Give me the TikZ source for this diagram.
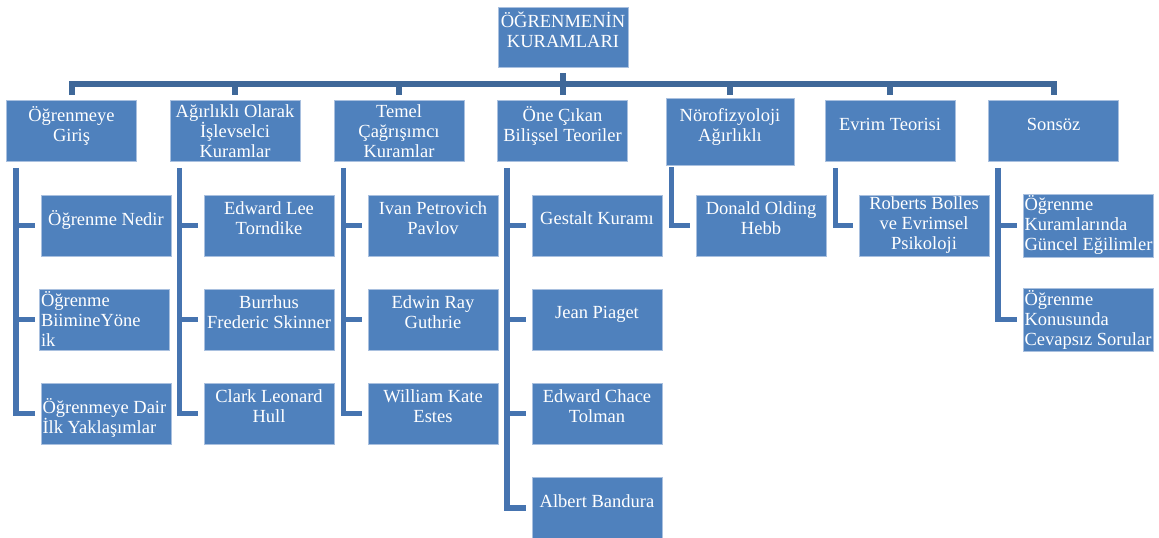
\documentclass[tikz,border=0pt]{standalone}
\usepackage{fontspec}
\setmainfont{Liberation Serif}
\definecolor{boxblue}{HTML}{4F81BD}
\definecolor{boxedge}{HTML}{A9C0DF}
\definecolor{busblue}{HTML}{3F6899}
\definecolor{lineblue}{HTML}{4674B0}
\begin{document}
\begin{tikzpicture}[x=1pt,y=-1pt,
  box/.style={draw=boxedge, line width=0.8pt, fill=boxblue, text=white,
    minimum width=130pt, minimum height=61pt, inner sep=2pt, align=center,
    font=\fontsize{18.5}{20}\selectfont},
  lift/.style={text depth=14pt},
  lbox/.style={box, align=flush left, text width=127pt, inner xsep=1.5pt},
  busline/.style={draw=busblue, line width=6pt},
  conn/.style={draw=lineblue, line width=5.5pt}]
\useasboundingbox (0,0) rectangle (1159,538);

% root
\node[box, lift, minimum height=60pt] (top) at (563,37) {ÖĞRENMENİN\\KURAMLARI};

% level 1
\node[box, lift] (n1) at (71.5,131) {Öğrenmeye\\Giriş};
\node[box] (n2) at (235,131) {Ağırlıklı Olarak\\İşlevselci\\Kuramlar};
\node[box] (n3) at (399,131) {Temel\\Çağrışımcı\\Kuramlar};
\node[box, lift] (n4) at (562.5,131) {Öne Çıkan\\Bilişsel Teoriler};
\node[box, lift, minimum width=128pt, minimum height=67pt] (n5) at (730,131.5) {Nörofizyoloji\\Ağırlıklı};
\node[box, lift] (n6) at (890,131) {Evrim Teorisi};
\node[box, lift] (n7) at (1053.5,131) {Sonsöz};

% level 2
\node[box, lift] (c11) at (106,225.5) {Öğrenme Nedir};
\node[lbox, xshift=-1.5pt] (c12) at (106,319.5) {Öğrenme\\BiimineYöne\\ik};
\node[lbox, lift] (c13) at (106,413.5) {\mbox{Öğrenmeye Dair}\\\mbox{İlk Yaklaşımlar}};

\node[box, lift] (c21) at (269,225.5) {Edward Lee\\Torndike};
\node[box, lift] (c22) at (269,319.5) {Burrhus\\Frederic Skinner};
\node[box, lift] (c23) at (269,413.5) {Clark Leonard\\Hull};

\node[box, lift] (c31) at (433,225.5) {Ivan Petrovich\\Pavlov};
\node[box, lift] (c32) at (433,319.5) {Edwin Ray\\Guthrie};
\node[box, lift] (c33) at (433,413.5) {William Kate\\Estes};

\node[box, lift] (c41) at (597,225.5) {Gestalt Kuramı};
\node[box, lift] (c42) at (597,319.5) {Jean Piaget};
\node[box, lift] (c43) at (597,413.5) {Edward Chace\\Tolman};
\node[box, lift] (c44) at (597,508) {Albert Bandura};

\node[box, lift] (c51) at (761,225.5) {Donald Olding\\Hebb};

\node[box] (c61) at (924,225.5) {Roberts Bolles\\ve Evrimsel\\Psikoloji};

\node[lbox] (c71) at (1088,225.5) {Öğrenme\\Kuramlarında\\\mbox{Güncel Eğilimler}};
\node[lbox] (c72) at (1088,319.5) {Öğrenme\\Konusunda\\\mbox{Cevapsız Sorular}};

% bus
\coordinate (bus) at (0,84);
\coordinate (drop) at (0,95);
\draw[busline] ([yshift=-6pt]top.south) -- (top.south |- drop);
\draw[busline] (n1.north |- drop) -- (n1.north |- bus) -- (n7.north |- bus) -- (n7.north |- drop);
\foreach \n in {n2,n3,n4,n5,n6}
  \draw[busline] (\n.north |- bus) -- (\n.north |- drop);

% child connectors
\coordinate (v1) at ([shift={(10pt,-6pt)}]n1.south west);
\coordinate (v2) at ([shift={(10pt,-6pt)}]n2.south west);
\coordinate (v3) at ([shift={(10pt,-6pt)}]n3.south west);
\coordinate (v4) at ([shift={(10pt,-6pt)}]n4.south west);
\coordinate (v5) at ([shift={(6pt,-2pt)}]n5.south west);
\coordinate (v6) at ([shift={(11pt,-6pt)}]n6.south west);
\coordinate (v7) at ([shift={(10pt,-6pt)}]n7.south west);

\draw[conn] (v1) |- ([xshift=-6pt]c13.west);
\draw[conn] (v1 |- c11.west) -- ([xshift=-6pt]c11.west);
\draw[conn] (v1 |- c12.west) -- ([xshift=-4.5pt]c12.west);

\draw[conn] (v2) |- ([xshift=-6pt]c23.west);
\draw[conn] (v2 |- c21.west) -- ([xshift=-6pt]c21.west);
\draw[conn] (v2 |- c22.west) -- ([xshift=-6pt]c22.west);

\draw[conn] (v3) |- ([xshift=-6pt]c33.west);
\draw[conn] (v3 |- c31.west) -- ([xshift=-6pt]c31.west);
\draw[conn] (v3 |- c32.west) -- ([xshift=-6pt]c32.west);

\draw[conn] (v4) |- ([xshift=-6pt]c44.west);
\draw[conn] (v4 |- c41.west) -- ([xshift=-6pt]c41.west);
\draw[conn] (v4 |- c42.west) -- ([xshift=-6pt]c42.west);
\draw[conn] (v4 |- c43.west) -- ([xshift=-6pt]c43.west);

\draw[conn] (v5) |- ([xshift=-6pt]c51.west);
\draw[conn] (v6) |- ([xshift=-6pt]c61.west);

\draw[conn] (v7) |- ([xshift=-6pt]c72.west);
\draw[conn] (v7 |- c71.west) -- ([xshift=-6pt]c71.west);
\end{tikzpicture}
\end{document}
